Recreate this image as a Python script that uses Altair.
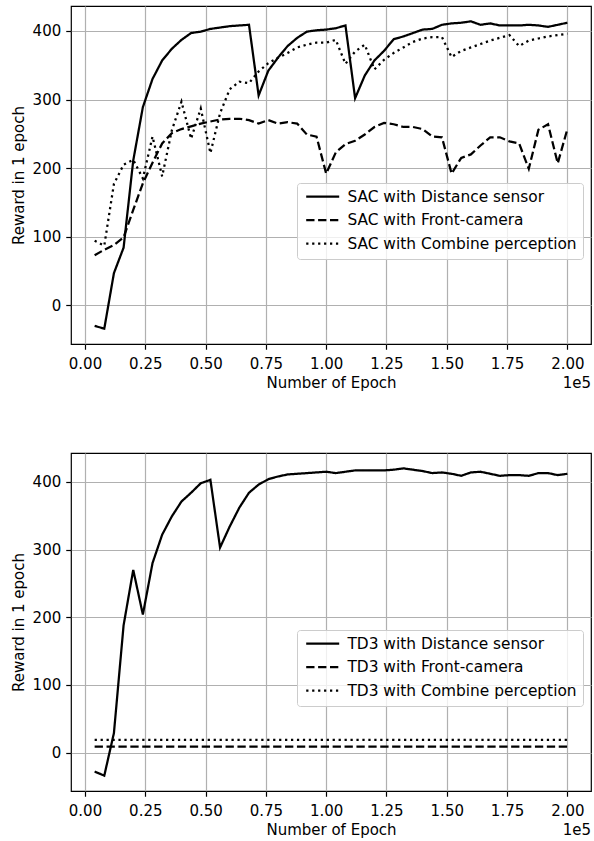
import altair as alt
import pandas as pd

# x positions in units of 1e5 epochs
epochs = [0.04, 0.08, 0.12, 0.16, 0.20, 0.24, 0.28, 0.32, 0.36, 0.40,
          0.44, 0.48, 0.52, 0.56, 0.60, 0.64, 0.68, 0.72, 0.76, 0.80,
          0.84, 0.88, 0.92, 0.96, 1.00, 1.04, 1.08, 1.12, 1.16, 1.20,
          1.24, 1.28, 1.32, 1.36, 1.40, 1.44, 1.48, 1.52, 1.56, 1.60,
          1.64, 1.68, 1.72, 1.76, 1.80, 1.84, 1.88, 1.92, 1.96, 2.00]

sac_distance = [-30, -34, 47, 84, 211, 289, 330, 357, 374, 387,
                397, 399, 403, 405, 407, 408, 409, 306, 342, 361,
                378, 390, 399, 401, 402, 404, 408, 302, 335, 357,
                371, 388, 392, 397, 402, 403, 409, 411, 412, 414,
                409, 411, 408, 408, 408, 409, 408, 406, 409, 412]

sac_front = [73, 81, 88, 99, 139, 178, 208, 236, 251, 257,
             261, 265, 268, 271, 272, 272, 270, 265, 270, 265,
             267, 265, 249, 246, 192, 223, 235, 240, 249, 260,
             266, 264, 260, 260, 257, 246, 245, 192, 215, 220,
             233, 245, 245, 239, 236, 199, 256, 264, 207, 257]

sac_combine = [94, 87, 177, 205, 212, 185, 246, 188, 255, 297,
               243, 287, 222, 280, 315, 326, 324, 341, 353, 361,
               368, 376, 380, 383, 383, 387, 352, 370, 380, 344,
               358, 368, 376, 384, 389, 391, 391, 362, 371, 376,
               381, 386, 390, 394, 378, 386, 389, 392, 394, 396]

td3_distance = [-28, -34, 29, 188, 270, 204, 280, 322, 349, 371,
                384, 398, 403, 303, 334, 362, 384, 396, 404, 408,
                411, 412, 413, 414, 415, 413, 415, 417, 417, 417,
                417, 418, 420, 418, 416, 413, 414, 412, 409, 414,
                415, 412, 409, 410, 410, 409, 413, 413, 410, 412]

td3_front = [9, 9, 9, 9, 9, 9, 9, 9, 9, 9,
             9, 9, 9, 9, 9, 9, 9, 9, 9, 9,
             9, 9, 9, 9, 9, 9, 9, 9, 9, 9,
             9, 9, 9, 9, 9, 9, 9, 9, 9, 9,
             9, 9, 9, 9, 9, 9, 9, 9, 9, 9]

td3_combine = [19, 19, 19, 19, 19, 19, 19, 19, 19, 19,
               19, 19, 19, 19, 19, 19, 19, 19, 19, 19,
               19, 19, 19, 19, 19, 19, 19, 19, 19, 19,
               19, 19, 19, 19, 19, 19, 19, 19, 19, 19,
               19, 19, 19, 19, 19, 19, 19, 19, 19, 19]

sac_names = ["SAC with Distance sensor", "SAC with Front-camera", "SAC with Combine perception"]
td3_names = ["TD3 with Distance sensor", "TD3 with Front-camera", "TD3 with Combine perception"]

x_ticks = [0, 25000, 50000, 75000, 100000, 125000, 150000, 175000, 200000]
y_ticks = [0, 100, 200, 300, 400]
dashes = [[1, 0], [8.3, 3.6], [2.25, 3.7]]

W, H = 520, 338
FONT = "DejaVu Sans"


def panel(names, series):
    rows = []
    for name, vals in zip(names, series):
        for e, v in zip(epochs, vals):
            rows.append({"epoch": e * 100000, "reward": v, "series": name})
    df = pd.DataFrame(rows)
    allv = [v for s in series for v in s]
    ymin, ymax = min(allv), max(allv)
    ypad = 0.05 * (ymax - ymin)
    xmin, xmax = epochs[0] * 100000, epochs[-1] * 100000
    xpad = 0.05 * (xmax - xmin)

    lines = alt.Chart(df).mark_line(strokeWidth=2.25, color="black", strokeCap="butt", clip=True).encode(
        x=alt.X("epoch:Q",
                scale=alt.Scale(domain=[xmin - xpad, xmax + xpad], nice=False, zero=False),
                axis=alt.Axis(values=x_ticks, labelExpr="format(datum.value/100000, '.2f')",
                              title="Number of Epoch", grid=True)),
        y=alt.Y("reward:Q",
                scale=alt.Scale(domain=[ymin - ypad, ymax + ypad], nice=False, zero=False),
                axis=alt.Axis(values=y_ticks, title="Reward in 1 epoch", grid=True)),
        strokeDash=alt.StrokeDash(
            "series:N", sort=names,
            scale=alt.Scale(domain=names, range=dashes),
            legend=alt.Legend(title=None, orient="none", legendX=226, legendY=177,
                              symbolType="M-3.3,0H3.3", symbolSize=100, symbolStrokeWidth=2.25,
                              symbolStrokeColor="black", symbolOffset=12,
                              labelFontSize=15.4, labelFont=FONT, labelLimit=0,
                              labelColor="black", labelOffset=17, rowPadding=6.5,
                              fillColor="rgba(255,255,255,0.8)", strokeColor="#cccccc",
                              padding=6, cornerRadius=3)),
    )
    offset = alt.Chart(pd.DataFrame({"t": ["1e5"]})).mark_text(
        align="right", baseline="middle", fontSize=15, font=FONT, color="black"
    ).encode(text="t:N", x=alt.value(W), y=alt.value(H + 39))
    return alt.layer(lines, offset).properties(width=W, height=H)


top = panel(sac_names, [sac_distance, sac_front, sac_combine])
bottom = panel(td3_names, [td3_distance, td3_front, td3_combine])

chart = alt.vconcat(top, bottom, spacing=60).resolve_scale(strokeDash="independent").properties(
    padding={"left": 10, "top": 5, "right": 0, "bottom": 5}
).configure_view(stroke="black", strokeWidth=1.2).configure_axis(
    labelFont=FONT, labelFontSize=15, labelColor="black",
    titleFont=FONT, titleFontSize=15, titleFontWeight="normal", titleColor="black",
    tickColor="black", tickSize=5.25, tickWidth=1.2, labelPadding=5,
    gridColor="#b0b0b0", gridWidth=1.2, gridOpacity=1, domain=False,
).configure_axisX(titlePadding=4, labelPadding=7).configure_axisY(titlePadding=6)

chart.save("out.html", embed_options={"renderer": "svg", "actions": False})
